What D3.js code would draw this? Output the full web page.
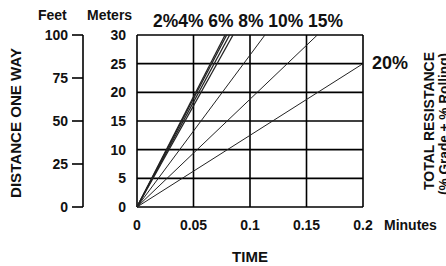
<!DOCTYPE html>
<html>
<head>
<meta charset="utf-8">
<script src="https://cdn.jsdelivr.net/npm/d3@7"></script>
<style>
  body { margin: 0; background: #fff; }
  text { font-family: "Liberation Sans Narrow", "Liberation Sans", Arial, sans-serif; font-weight: bold; fill: #111; }
</style>
</head>
<body>
<svg width="446" height="266"></svg>
<script>
// grade lines: total resistance (%) and travel speed (m per minute)
const grades = [2, 4, 6, 8, 10, 15, 20];
const speeds = [385, 378, 366, 353, 265, 188, 125];

const timeTicks = [0, 0.05, 0.1, 0.15, 0.2];
const meterTicks = [0, 5, 10, 15, 20, 25, 30];
const feetTicks = [0, 25, 50, 75, 100];

const svg = d3.select("svg");

const x = d3.scaleLinear().domain([0, 0.2]).range([137, 363]);
const y = d3.scaleLinear().domain([0, 30]).range([207, 35]);
const yFeet = d3.scaleLinear().domain([0, 100]).range([207, 35]);

// grid
const grid = svg.append("g");
timeTicks.forEach(t => {
    grid.append("line")
        .attr("x1", x(t)).attr("x2", x(t))
        .attr("y1", y(0)).attr("y2", y(30))
        .attr("stroke", "#000").attr("stroke-width", 1.6);
});
meterTicks.forEach(m => {
    grid.append("line")
        .attr("x1", x(0)).attr("x2", x(0.2))
        .attr("y1", y(m)).attr("y2", y(m))
        .attr("stroke", "#000").attr("stroke-width", 1.6);
});

// grade lines from origin until they leave the plot
grades.forEach((g, i) => {
    const tEnd = Math.min(0.2, 30 / speeds[i]);
    svg.append("line")
        .attr("x1", x(0)).attr("y1", y(0))
        .attr("x2", x(tEnd)).attr("y2", y(speeds[i] * tEnd))
        .attr("stroke", "#222")
        .attr("stroke-width", i < 4 ? 1.3 : 1);
});

// meters labels
meterTicks.forEach(m => {
    svg.append("text")
        .attr("x", 126).attr("y", y(m))
        .attr("dy", "0.36em")
        .attr("text-anchor", "end")
        .attr("font-size", 14)
        .text(m);
});

// feet axis
svg.append("path")
    .attr("d", `M83,${yFeet(100)}V${yFeet(0)}`)
    .attr("stroke", "#000").attr("stroke-width", 1.6).attr("fill", "none");
feetTicks.forEach(f => {
    svg.append("line")
        .attr("x1", 72).attr("x2", 83)
        .attr("y1", yFeet(f)).attr("y2", yFeet(f))
        .attr("stroke", "#000").attr("stroke-width", 1.6);
    svg.append("text")
        .attr("x", 68).attr("y", yFeet(f))
        .attr("dy", "0.36em")
        .attr("text-anchor", "end")
        .attr("font-size", 14)
        .text(f);
});

// time labels
timeTicks.forEach(t => {
    svg.append("text")
        .attr("x", x(t)).attr("y", 230)
        .attr("text-anchor", "middle")
        .attr("font-size", 14)
        .text(t);
});
svg.append("text").attr("x", 384).attr("y", 230).attr("font-size", 14).text("Minutes");

// headers
svg.append("text").attr("x", 38).attr("y", 20).attr("font-size", 14).text("Feet");
svg.append("text").attr("x", 87).attr("y", 20).attr("font-size", 14).text("Meters");

// grade labels across the top, 20% at the right
svg.append("text")
    .attr("x", 153).attr("y", 27)
    .attr("font-size", 18)
    .attr("textLength", 190)
    .attr("lengthAdjust", "spacingAndGlyphs")
    .text(grades.slice(0, 6).map(g => g + "%").join(" ").replace("2% 4%", "2%4%"));
svg.append("text")
    .attr("x", 372).attr("y", y(speeds[6] * 0.2) + 5)
    .attr("font-size", 18)
    .text(grades[6] + "%");

// axis titles
svg.append("text")
    .attr("x", 250).attr("y", 262)
    .attr("text-anchor", "middle")
    .attr("font-size", 15)
    .text("TIME");
svg.append("text")
    .attr("transform", "translate(21,123) rotate(-90)")
    .attr("text-anchor", "middle")
    .attr("font-size", 15)
    .attr("textLength", 150)
    .attr("lengthAdjust", "spacingAndGlyphs")
    .text("DISTANCE ONE WAY");
svg.append("text")
    .attr("transform", "translate(434,121) rotate(-90)")
    .attr("text-anchor", "middle")
    .attr("font-size", 14)
    .attr("textLength", 138)
    .attr("lengthAdjust", "spacingAndGlyphs")
    .text("TOTAL RESISTANCE");
svg.append("text")
    .attr("transform", "translate(449,124) rotate(-90)")
    .attr("text-anchor", "middle")
    .attr("font-size", 14)
    .attr("textLength", 142)
    .attr("lengthAdjust", "spacingAndGlyphs")
    .text("(% Grade + % Rolling)");
</script>
</body>
</html>
